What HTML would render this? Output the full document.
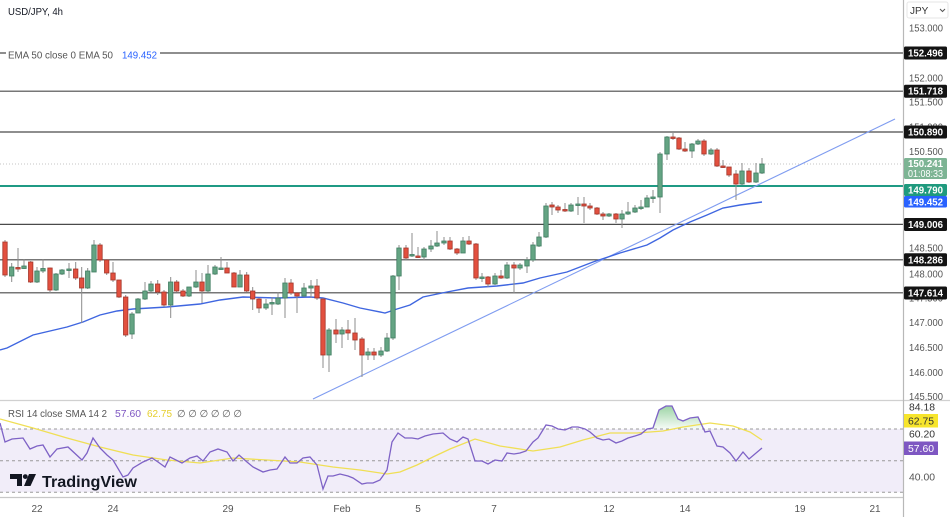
<!DOCTYPE html>
<html><head><meta charset="utf-8">
<style>
html,body{margin:0;padding:0;background:#fff;}
svg{display:block;font-family:"Liberation Sans",sans-serif;}
</style></head>
<body>
<svg width="950" height="517" viewBox="0 0 950 517" xmlns="http://www.w3.org/2000/svg">
<defs>
<clipPath id="main"><rect x="0" y="0" width="903" height="400"/></clipPath>
<linearGradient id="gg" x1="0" y1="0" x2="0" y2="1">
<stop offset="0" stop-color="#5cb86a" stop-opacity="0.6"/>
<stop offset="1" stop-color="#5cb86a" stop-opacity="0.05"/>
</linearGradient>
</defs>
<rect x="0" y="0" width="950" height="517" fill="#fff"/>

<!-- RSI band -->
<rect x="0" y="429" width="903" height="63.3" fill="#f1edf9"/>
<g stroke="#9a9a9a" stroke-width="1" stroke-dasharray="3,3">
<line x1="0" y1="429" x2="903" y2="429"/>
<line x1="0" y1="460.7" x2="903" y2="460.7"/>
<line x1="0" y1="492.3" x2="903" y2="492.3"/>
</g>

<g clip-path="url(#main)">
<!-- horizontal levels -->
<g stroke="#4a4a4a" stroke-width="1.2">
<line x1="0" y1="53" x2="903" y2="53"/>
<line x1="0" y1="91.2" x2="903" y2="91.2"/>
<line x1="0" y1="132" x2="903" y2="132"/>
<line x1="0" y1="224.4" x2="903" y2="224.4"/>
<line x1="0" y1="259.8" x2="903" y2="259.8"/>
<line x1="0" y1="292.8" x2="903" y2="292.8"/>
</g>
<line x1="0" y1="164" x2="903" y2="164" stroke="#c4c4c4" stroke-width="1" stroke-dasharray="1,2"/>
<line x1="0" y1="186" x2="903" y2="186" stroke="#1f9a84" stroke-width="2"/>

<!-- trend line -->
<line x1="313" y1="399" x2="895" y2="119" stroke="#7f9cf0" stroke-width="1.1"/>
<!-- EMA -->
<polyline fill="none" stroke="#3f66e0" stroke-width="1.4" points="0,350 7,348 33,335 67,327 83,322 100,315 117,311 133,309 167,307 200,304 220,300 243,297 277,298 310,297 323,298 343,303 360,308 385,313 397,309 410,305 423,297 447,292 468,288 497,286 523,283 540,278 567,272 593,262 620,253 647,245 660,238 673,230 690,222 707,215 723,208 740,205 762,202"/>

<!-- wicks -->
<path fill="none" stroke="#8c8c8c" stroke-width="1" d="M5 240V277M11.7 263V282M18 248V272M24 259V269M30.7 261V283M37 267V283M43 259V273M50 267.5V293M56 273V291M62 269V275M69 263V278M75.7 262V280M81.7 267V323M87.7 268V289M94 240V272M100 243V262M106.7 259V275M113 262V282M119 280V298M125.7 295V337M132 312V339M138 298V313M145 282V300M151 281V292M157.7 280V295M164 290V307M170.7 277V318M176.7 280V292M183 289V297M189 287V297M196 270V288M202 273V303M208 265V292M215 265V275M221 257V270M227 262V273M234 272V287M240 270V287M246.7 272V292M252.7 287V310M259 298V313M266 299V310M272 297V315M278 292V305M285 278V318M291 279V295M297 292V313M304 283V297M311 280V298M317 279V300M323 298V368M329 328V372M336 319V343M342 327V348M348 320V340M355 318V350M362 337V377M368 348V360M374 348V360M381 347V357M387 333V352M393 275V340M399 245V290M406 245V260M412 233V257M418 247V258M424 247V260M431 240V252M437 231V247M444 237V245M450 237V250M457 248V255M463 237V253M469 236V245M476 243V280M482 273V282M488 276V287M495 273V285M501 270V279M507 262V279M514 262V293M520 263V270M527 257V273M533 242V262M539 232V247M546 203V238M552 202V215M558 205V213M565 203V212M571 203V212M578 197V215M584 197V223M590 203V210M597 207V215M603 212V220M609 213V217M616 213V223M622 210V228M628 202V215M635 205V213M641 200V210M647 195V207M653 190V203M660 152V213M667 136V160M673 133V140M679 137V150M685 142V152M692 143V158M698 139V145M704 139V156M711 148V155M717 148V167M723 160V168M729 167V177M736 170V200M742 163V185M749 168V183M756 163V183M762 158V174"/>

<!-- green bodies -->
<g fill="#64a483" stroke="#3f7d61" stroke-width="0.8">
<rect x="9.5" y="267" width="4.4" height="9"/>
<rect x="21.8" y="266" width="4.4" height="2.5"/>
<rect x="34.8" y="271" width="4.4" height="11"/>
<rect x="40.8" y="268.5" width="4.4" height="2.5"/>
<rect x="53.8" y="274" width="4.4" height="16"/>
<rect x="59.8" y="270" width="4.4" height="4"/>
<rect x="66.8" y="269" width="4.4" height="1.5"/>
<rect x="85.5" y="271" width="4.4" height="17"/>
<rect x="91.8" y="245" width="4.4" height="27"/>
<rect x="129.8" y="314" width="4.4" height="20"/>
<rect x="135.8" y="299" width="4.4" height="14"/>
<rect x="142.8" y="291" width="4.4" height="8"/>
<rect x="148.8" y="284" width="4.4" height="7"/>
<rect x="168.5" y="282" width="4.4" height="23"/>
<rect x="186.8" y="287" width="4.4" height="9"/>
<rect x="193.8" y="282" width="4.4" height="5"/>
<rect x="205.8" y="274" width="4.4" height="17"/>
<rect x="212.8" y="267" width="4.4" height="7"/>
<rect x="218.8" y="268" width="4.4" height="1.5"/>
<rect x="237.8" y="275" width="4.4" height="12"/>
<rect x="263.8" y="304" width="4.4" height="4"/>
<rect x="269.8" y="302.5" width="4.4" height="1.5"/>
<rect x="275.8" y="298" width="4.4" height="6"/>
<rect x="282.8" y="283" width="4.4" height="15"/>
<rect x="301.8" y="288" width="4.4" height="8"/>
<rect x="308.8" y="286" width="4.4" height="2"/>
<rect x="326.8" y="330" width="4.4" height="25"/>
<rect x="339.8" y="330" width="4.4" height="4"/>
<rect x="365.8" y="352" width="4.4" height="3"/>
<rect x="378.8" y="351" width="4.4" height="4"/>
<rect x="384.8" y="338" width="4.4" height="13"/>
<rect x="390.8" y="276" width="4.4" height="62"/>
<rect x="396.8" y="248" width="4.4" height="28"/>
<rect x="409.8" y="254.5" width="4.4" height="1.5"/>
<rect x="421.8" y="249" width="4.4" height="8"/>
<rect x="428.8" y="246" width="4.4" height="3"/>
<rect x="434.8" y="243" width="4.4" height="3"/>
<rect x="441.8" y="241" width="4.4" height="2"/>
<rect x="460.8" y="241" width="4.4" height="12"/>
<rect x="479.8" y="277" width="4.4" height="1.5"/>
<rect x="492.8" y="276" width="4.4" height="8"/>
<rect x="504.8" y="265" width="4.4" height="13"/>
<rect x="517.8" y="265" width="4.4" height="3"/>
<rect x="524.8" y="260" width="4.4" height="6"/>
<rect x="530.8" y="245" width="4.4" height="15"/>
<rect x="536.8" y="237" width="4.4" height="9"/>
<rect x="543.8" y="206" width="4.4" height="31"/>
<rect x="568.8" y="205" width="4.4" height="6"/>
<rect x="575.8" y="204" width="4.4" height="1.5"/>
<rect x="606.8" y="214" width="4.4" height="2"/>
<rect x="619.8" y="214" width="4.4" height="5"/>
<rect x="625.8" y="212" width="4.4" height="2"/>
<rect x="632.8" y="208" width="4.4" height="4"/>
<rect x="638.8" y="207" width="4.4" height="1.5"/>
<rect x="644.8" y="198" width="4.4" height="9"/>
<rect x="650.8" y="197" width="4.4" height="1.5"/>
<rect x="657.8" y="154" width="4.4" height="43"/>
<rect x="664.8" y="137" width="4.4" height="17"/>
<rect x="689.8" y="144" width="4.4" height="7"/>
<rect x="695.8" y="141" width="4.4" height="3"/>
<rect x="708.8" y="150" width="4.4" height="4"/>
<rect x="739.8" y="171" width="4.4" height="13"/>
<rect x="753.8" y="173" width="4.4" height="9"/>
<rect x="759.8" y="164" width="4.4" height="9"/>
</g>
<!-- red bodies -->
<g fill="#e2503f" stroke="#a3352a" stroke-width="0.8">
<rect x="2.8" y="242" width="4.4" height="33"/>
<rect x="15.8" y="267.5" width="4.4" height="1.5"/>
<rect x="28.5" y="262" width="4.4" height="20"/>
<rect x="47.8" y="268" width="4.4" height="22"/>
<rect x="73.5" y="269" width="4.4" height="9"/>
<rect x="79.5" y="278" width="4.4" height="10"/>
<rect x="97.8" y="245" width="4.4" height="15"/>
<rect x="104.5" y="260" width="4.4" height="13"/>
<rect x="110.8" y="273" width="4.4" height="7"/>
<rect x="116.8" y="280" width="4.4" height="17"/>
<rect x="123.5" y="297" width="4.4" height="38"/>
<rect x="155.5" y="284" width="4.4" height="8"/>
<rect x="161.8" y="292" width="4.4" height="13"/>
<rect x="174.5" y="282" width="4.4" height="9"/>
<rect x="180.8" y="291" width="4.4" height="5"/>
<rect x="199.8" y="282" width="4.4" height="9"/>
<rect x="224.8" y="268" width="4.4" height="5"/>
<rect x="231.8" y="273" width="4.4" height="14"/>
<rect x="244.5" y="275" width="4.4" height="16"/>
<rect x="250.5" y="291" width="4.4" height="8"/>
<rect x="256.8" y="299" width="4.4" height="9"/>
<rect x="288.8" y="283" width="4.4" height="10"/>
<rect x="294.8" y="293" width="4.4" height="3"/>
<rect x="314.8" y="286" width="4.4" height="12"/>
<rect x="320.8" y="299" width="4.4" height="56"/>
<rect x="333.8" y="330" width="4.4" height="4"/>
<rect x="345.8" y="330" width="4.4" height="3"/>
<rect x="352.8" y="333" width="4.4" height="7"/>
<rect x="359.8" y="339" width="4.4" height="16"/>
<rect x="371.8" y="352" width="4.4" height="3"/>
<rect x="403.8" y="248" width="4.4" height="10"/>
<rect x="415.8" y="256" width="4.4" height="1.5"/>
<rect x="447.8" y="241" width="4.4" height="8"/>
<rect x="454.8" y="249" width="4.4" height="4"/>
<rect x="466.8" y="241" width="4.4" height="3"/>
<rect x="473.8" y="244" width="4.4" height="34"/>
<rect x="485.8" y="277" width="4.4" height="7"/>
<rect x="498.8" y="276" width="4.4" height="2"/>
<rect x="511.8" y="265" width="4.4" height="3"/>
<rect x="549.8" y="205" width="4.4" height="2"/>
<rect x="555.8" y="207" width="4.4" height="3"/>
<rect x="562.8" y="209.5" width="4.4" height="1.5"/>
<rect x="581.8" y="204" width="4.4" height="2"/>
<rect x="587.8" y="206" width="4.4" height="2"/>
<rect x="594.8" y="208" width="4.4" height="6"/>
<rect x="600.8" y="214" width="4.4" height="2"/>
<rect x="613.8" y="214" width="4.4" height="5"/>
<rect x="670.8" y="137" width="4.4" height="1.5"/>
<rect x="676.8" y="138" width="4.4" height="11"/>
<rect x="682.8" y="149" width="4.4" height="2"/>
<rect x="701.8" y="141" width="4.4" height="13"/>
<rect x="714.8" y="150" width="4.4" height="16"/>
<rect x="720.8" y="166" width="4.4" height="1.5"/>
<rect x="726.8" y="167" width="4.4" height="8"/>
<rect x="733.8" y="174" width="4.4" height="10"/>
<rect x="746.8" y="171" width="4.4" height="11"/>
</g>
</g>

<!-- legends main -->
<text x="8" y="15" font-size="10.5" fill="#131722" textLength="55" lengthAdjust="spacingAndGlyphs">USD/JPY, 4h</text>
<rect x="6" y="48" width="154" height="13" fill="#fff"/>
<text x="8" y="58.5" font-size="10" fill="#555" textLength="105" lengthAdjust="spacingAndGlyphs">EMA 50 close 0 EMA 50</text>
<text x="122" y="58.5" font-size="10" fill="#2962ff" textLength="35" lengthAdjust="spacingAndGlyphs">149.452</text>

<!-- RSI -->
<polygon fill="url(#gg)" points="647,429 653,428 659,410 666,406 672,406 678,419 683,421 690,418 698,417 703,429"/>
<polyline fill="none" stroke="#f0df55" stroke-width="1.3" points="0,419 33,428 67,438 100,447 133,455 167,460 200,463 233,458 267,460 300,462 333,467 360,470 387,474 400,472 417,465 433,457 450,449 475,439 500,446 533,451 560,447 583,440 610,433 637,433 663,431 683,427 710,423 733,426 750,432 762,440"/>
<polyline fill="none" stroke="#7e62c6" stroke-width="1.3" points="0,423 5,442 12,439 23,438 30,449 37,446 43,445 50,457 57,449 68,447 82,460 87,453 93,438 100,448 107,455 113,460 123,477 128,475 133,468 143,462 152,458 158,462 165,467 170,457 182,463 190,458 197,456 203,461 210,452 218,449 227,452 233,461 239,455 247,462 253,467 263,472 270,470 277,469 285,457 290,463 297,463 303,458 310,457 317,465 323,489 328,476 333,476 340,474 348,476 353,478 362,484 367,483 373,483 380,480 387,470 392,442 398,433 405,438 412,438 418,439 425,436 433,434 443,433 450,439 457,442 463,437 468,439 475,461 482,461 488,464 495,460 502,461 507,453 514,454 520,453 526,451 533,442 538,438 546,425 552,426 558,429 565,430 572,427 578,427 585,429 590,432 597,438 603,440 609,439 616,443 622,441 628,438 635,436 641,434 647,429 653,428 659,410 666,406 672,406 678,419 683,421 690,418 698,417 705,432 710,431 717,446 723,447 730,453 736,461 743,452 749,459 762,448"/>
<text x="8" y="417" font-size="10" fill="#555" textLength="99" lengthAdjust="spacingAndGlyphs">RSI 14 close SMA 14 2</text>
<text x="115" y="417" font-size="10" fill="#7e57c2" textLength="26" lengthAdjust="spacingAndGlyphs">57.60</text>
<text x="147" y="417" font-size="10" fill="#e6cf2e" textLength="25" lengthAdjust="spacingAndGlyphs">62.75</text>
<text x="177" y="417" font-size="10" fill="#555" textLength="65" lengthAdjust="spacingAndGlyphs">∅ ∅ ∅ ∅ ∅ ∅</text>

<!-- TradingView logo -->
<g fill="#131722">
<path d="M10 474H22V486H17V479H10Z"/>
<circle cx="25.3" cy="476.6" r="2.4"/>
<path d="M29 474H36L30.5 486H24Z"/>
</g>
<text x="42" y="487" font-size="16" font-weight="bold" fill="#131722" textLength="95" lengthAdjust="spacingAndGlyphs">TradingView</text>

<!-- separators -->
<rect x="903" y="0" width="47" height="517" fill="#fff"/>
<line x1="0" y1="400.5" x2="950" y2="400.5" stroke="#d0d0d0" stroke-width="1.2"/>
<line x1="0" y1="497.5" x2="903" y2="497.5" stroke="#c8c8c8" stroke-width="1.2"/>
<line x1="903.5" y1="0" x2="903.5" y2="517" stroke="#b8b8b8" stroke-width="1.2"/>

<!-- right axis -->
<rect x="907" y="2" width="41" height="16" rx="2" fill="#fff" stroke="#e6e6e6"/>
<text x="910" y="14" font-size="10" fill="#333">JPY</text>
<path d="M940 9l2.5 2.5 2.5-2.5" fill="none" stroke="#555" stroke-width="1"/>
<g font-size="10" fill="#555">
<text x="909" y="31.5" textLength="34" lengthAdjust="spacingAndGlyphs">153.000</text>
<text x="909" y="81.5" textLength="34" lengthAdjust="spacingAndGlyphs">152.000</text>
<text x="909" y="105.5" textLength="34" lengthAdjust="spacingAndGlyphs">151.500</text>
<text x="909" y="130.5" textLength="34" lengthAdjust="spacingAndGlyphs">151.000</text>
<text x="909" y="155" textLength="34" lengthAdjust="spacingAndGlyphs">150.500</text>
<text x="909" y="251.5" textLength="34" lengthAdjust="spacingAndGlyphs">148.500</text>
<text x="909" y="277.5" textLength="34" lengthAdjust="spacingAndGlyphs">148.000</text>
<text x="909" y="301.5" textLength="34" lengthAdjust="spacingAndGlyphs">147.500</text>
<text x="909" y="326" textLength="34" lengthAdjust="spacingAndGlyphs">147.000</text>
<text x="909" y="351" textLength="34" lengthAdjust="spacingAndGlyphs">146.500</text>
<text x="909" y="376" textLength="34" lengthAdjust="spacingAndGlyphs">146.000</text>
<text x="909" y="400" textLength="34" lengthAdjust="spacingAndGlyphs">145.500</text>
</g>
<g>
<rect x="904" y="46.5" width="43" height="13" rx="1.5" fill="#131313"/>
<rect x="904" y="84.7" width="43" height="13" rx="1.5" fill="#131313"/>
<rect x="904" y="125.5" width="43" height="13" rx="1.5" fill="#131313"/>
<rect x="904" y="158" width="43" height="21" rx="1.5" fill="#7db494"/>
<rect x="904" y="184" width="43" height="12" rx="1.5" fill="#1f9a7e"/>
<rect x="904" y="196" width="43" height="11.5" rx="1.5" fill="#2962ff"/>
<rect x="904" y="218" width="43" height="13" rx="1.5" fill="#131313"/>
<rect x="904" y="253.3" width="43" height="13" rx="1.5" fill="#131313"/>
<rect x="904" y="286.5" width="43" height="13" rx="1.5" fill="#131313"/>
</g>
<g font-size="10" fill="#fff" font-weight="bold">
<text x="908" y="56.5" textLength="35" lengthAdjust="spacingAndGlyphs">152.496</text>
<text x="908" y="94.7" textLength="35" lengthAdjust="spacingAndGlyphs">151.718</text>
<text x="908" y="135.5" textLength="35" lengthAdjust="spacingAndGlyphs">150.890</text>
<text x="908" y="167" textLength="35" lengthAdjust="spacingAndGlyphs">150.241</text>
<text x="908" y="177" font-weight="normal" textLength="35" lengthAdjust="spacingAndGlyphs">01:08:33</text>
<text x="908" y="193.5" textLength="35" lengthAdjust="spacingAndGlyphs">149.790</text>
<text x="908" y="205.3" textLength="35" lengthAdjust="spacingAndGlyphs">149.452</text>
<text x="908" y="228" textLength="35" lengthAdjust="spacingAndGlyphs">149.006</text>
<text x="908" y="263.3" textLength="35" lengthAdjust="spacingAndGlyphs">148.286</text>
<text x="908" y="296.5" textLength="35" lengthAdjust="spacingAndGlyphs">147.614</text>
</g>

<!-- RSI axis -->
<text x="909" y="410.5" font-size="10" fill="#333" textLength="26" lengthAdjust="spacingAndGlyphs">84.18</text>
<rect x="904" y="414" width="34" height="13.5" fill="#f7e52c"/>
<text x="908" y="424.5" font-size="10" fill="#333" textLength="26" lengthAdjust="spacingAndGlyphs">62.75</text>
<text x="909" y="437.5" font-size="10" fill="#333" textLength="26" lengthAdjust="spacingAndGlyphs">60.20</text>
<rect x="904" y="441.5" width="34" height="13.5" fill="#7e57c2"/>
<text x="908" y="452" font-size="10" fill="#fff" textLength="26" lengthAdjust="spacingAndGlyphs">57.60</text>
<text x="909" y="480.5" font-size="10" fill="#555" textLength="26" lengthAdjust="spacingAndGlyphs">40.00</text>

<!-- time axis -->
<g font-size="10" fill="#555" text-anchor="middle">
<text x="37" y="512">22</text>
<text x="113" y="512">24</text>
<text x="228" y="512">29</text>
<text x="342" y="512">Feb</text>
<text x="418" y="512">5</text>
<text x="494" y="512">7</text>
<text x="609" y="512">12</text>
<text x="685" y="512">14</text>
<text x="800" y="512">19</text>
<text x="875" y="512">21</text>
</g>
</svg>
</body></html>
